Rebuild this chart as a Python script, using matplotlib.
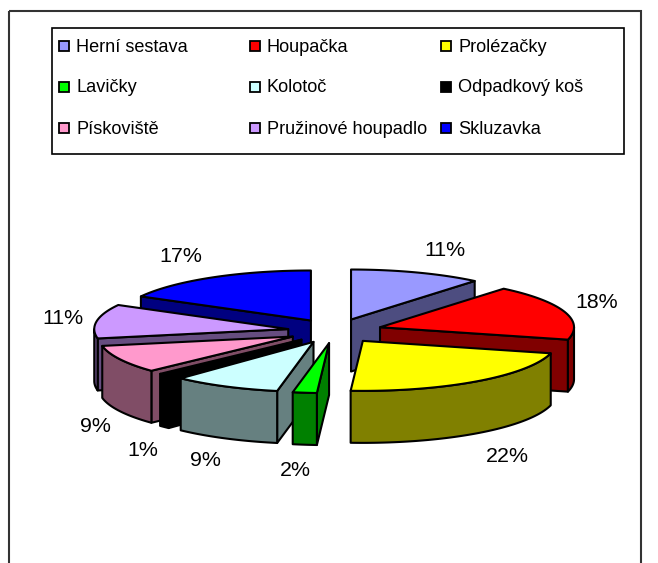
"""Exploded 3D-look pie of playground equipment shares, with a boxed legend."""
import numpy as np
import matplotlib; matplotlib.use("Agg")
import matplotlib.pyplot as plt
from matplotlib.colors import to_rgb
from matplotlib.patches import Rectangle

plt.rcParams["font.family"] = ["Liberation Sans", "DejaVu Sans"]

CATEGORIES = ["Herní sestava", "Houpačka", "Prolézačky", "Lavičky", "Kolotoč",
              "Odpadkový koš", "Pískoviště", "Pružinové houpadlo", "Skluzavka"]
SHARES = [11, 18, 22, 2, 9, 1, 9, 11, 17]
COLORS = ["#9999ff", "#ff0000", "#ffff00", "#00ff00", "#ccffff",
          "#000000", "#ff99cc", "#cc99ff", "#0000ff"]
LABEL_XY = [(445, 251), (597, 303), (507, 456), (295, 470), (205, 460),
            (143, 451), (95, 426), (63, 319), (181, 256)]

W, H = 658, 563
CX, CY, RX, RY = 335, 331, 194, 50   # pie centre and radii, pixels
DEPTH, EXPLODE = 1.04, 0.244         # in units of RY / of radius
DRAW_ORDER = [8, 7, 6, 5, 4, 3, 0, 1, 2]  # back to front


def arc(a, b, ox, oy):
    t = np.radians(np.linspace(a, b, max(2, int(b - a) + 2)))
    return ox + np.sin(t), oy + np.cos(t)


def draw_slice(ax, a, b, col):
    mid = np.radians((a + b) / 2)
    ox, oy = EXPLODE * np.sin(mid), EXPLODE * np.cos(mid)
    wall = tuple(.5 * c for c in to_rgb(col))
    kw = dict(edgecolor="black", lw=1.5, joinstyle="round")
    # radial cut faces, only those turned toward the viewer
    for ang, vis in [(a, np.sin(np.radians(a)) < -1e-6), (b, np.sin(np.radians(b)) > 1e-6)]:
        if vis:
            ex, ey = ox + np.sin(np.radians(ang)), oy + np.cos(np.radians(ang))
            ax.fill([ox, ex, ex, ox], [oy, ey, ey - DEPTH, oy - DEPTH], facecolor=wall, **kw)
    # outer wall, front half of the rim only
    lo, hi = max(a, 90), min(b, 270)
    if hi > lo:
        x, y = arc(lo, hi, ox, oy)
        ax.fill(np.r_[x, x[::-1]], np.r_[y, y[::-1] - DEPTH], facecolor=wall, **kw)
    x, y = arc(a, b, ox, oy)
    ax.fill(np.r_[ox, x], np.r_[oy, y], facecolor=col, **kw)


fig = plt.figure(figsize=(W / 100, H / 100), dpi=100, facecolor="white")

# pixel overlay for frame, legend and labels
pg = fig.add_axes([0, 0, 1, 1], zorder=2)
pg.set_xlim(0, W); pg.set_ylim(H, 0); pg.axis("off"); pg.patch.set_alpha(0)

# pie axes: one unit is one radius
ax = fig.add_axes([0, 0, 1, 1], zorder=1)
ax.set_xlim(-CX / RX, (W - CX) / RX)
ax.set_ylim((CY - H) / RY, CY / RY)
ax.axis("off")

edges = np.r_[0, np.cumsum(SHARES)] * 360 / sum(SHARES)
for i in DRAW_ORDER:
    draw_slice(ax, edges[i], edges[i + 1], COLORS[i])

pg.add_patch(Rectangle((8.5, 11), 632, 562, fill=False, ec="#333333", lw=1.5))
pg.add_patch(Rectangle((51.5, 27.5), 572, 126, fill=False, ec="black", lw=1.2))
for i, name in enumerate(CATEGORIES):
    row, col = divmod(i, 3)
    x, y = 60 + 191 * col, 46 + 41 * row
    pg.add_patch(Rectangle((x - 1.5, y - 5.5), 10, 10, fc=COLORS[i], ec="black", lw=1.3))
    pg.text(x + 16, y + 1, name, fontsize=13.1, va="center", ha="left", color="black")
for (x, y), v in zip(LABEL_XY, SHARES):
    pg.text(x, y, f"{v}%", fontsize=15.4, ha="center", va="center", color="black")

fig.savefig("out.png", dpi=100, facecolor="white")
